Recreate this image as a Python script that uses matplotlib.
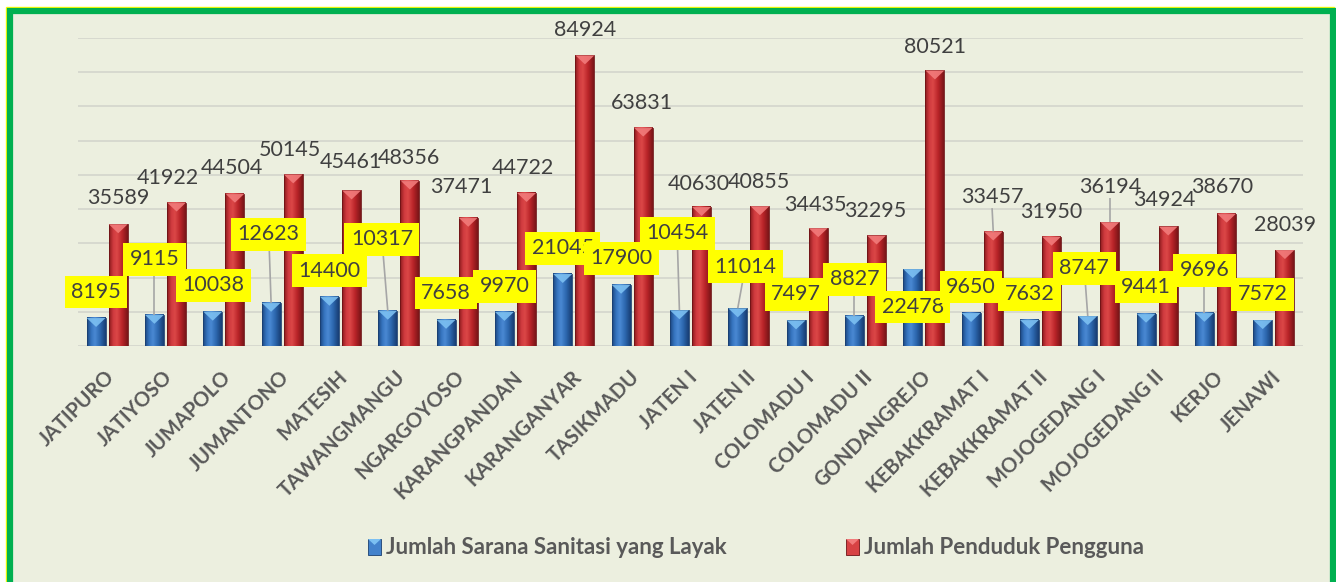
import numpy as np
import matplotlib
matplotlib.use("Agg")
import matplotlib.pyplot as plt
from matplotlib.colors import LinearSegmentedColormap
from matplotlib.patches import Rectangle, Polygon
from matplotlib.transforms import ScaledTranslation

# ---- data -------------------------------------------------------------
kecamatan = ["JATIPURO", "JATIYOSO", "JUMAPOLO", "JUMANTONO", "MATESIH",
             "TAWANGMANGU", "NGARGOYOSO", "KARANGPANDAN", "KARANGANYAR",
             "TASIKMADU", "JATEN I", "JATEN II", "COLOMADU I", "COLOMADU II",
             "GONDANGREJO", "KEBAKKRAMAT I", "KEBAKKRAMAT II", "MOJOGEDANG I",
             "MOJOGEDANG II", "KERJO", "JENAWI"]
sarana_layak = [8195, 9115, 10038, 12623, 14400, 10317, 7658, 9970, 21045,
                17900, 10454, 11014, 7497, 8827, 22478, 9650, 7632, 8747,
                9441, 9696, 7572]
penduduk_pengguna = [35589, 41922, 44504, 50145, 45461, 48356, 37471, 44722,
                     84924, 63831, 40630, 40855, 34435, 32295, 80521, 33457,
                     31950, 36194, 34924, 38670, 28039]
series_names = ["Jumlah Sarana Sanitasi yang Layak", "Jumlah Penduduk Pengguna"]

# ---- label layout (x shift from bar centre, label centre height) ------
blue_lbl_dx = [0.0, 0.0, 0.01, -0.04, 0.0, -0.10, 0.0, 0.0, 0.0, 0.0,
               -0.04, 0.13, 0.0, 0.0, 0.0, 0.0, 0.0, -0.06, 0.0, 0.0, 0.0]
blue_lbl_y = [15770, 25400, 17810, 32700, 22050, 31240, 15480, 17520, 28620,
              25700, 33000, 23210, 15180, 19560, 11390, 17230, 15180, 22780,
              17230, 22190, 15180]
red_lbl_dx = [0.0, -0.15, -0.05, -0.06, -0.02, -0.02, -0.12, -0.06, 0.0,
              -0.02, -0.05, -0.01, -0.05, -0.02, 0.0, -0.02, 0.0, 0.0, -0.07,
              -0.08, 0.0]
red_lbl_y = [43200, 49100, 52000, 57200, 53700, 54900, 46400, 52000, 92300,
             71000, 47300, 47900, 41200, 39400, 87300, 43500, 39100, 46400,
             42600, 46400, 35300]
blue_leaders = [1, 3, 5, 10, 11, 13, 17, 19]
red_leaders = [15, 17]

# ---- styling ----------------------------------------------------------
BG = "#ECEFDF"
GRID = "#D5D7CE"
TXT = "#404040"
AXT = "#595959"
FONT = "Lato"
W, H = 1336, 582

blue_cmap = LinearSegmentedColormap.from_list(
    "blue_bar", [(0, "#1B4680"), (0.22, "#3674BF"), (0.42, "#4A89D3"),
                 (0.7, "#2C67AE"), (1, "#183E74")])
red_cmap = LinearSegmentedColormap.from_list(
    "red_bar", [(0, "#8A1A1D"), (0.22, "#CF3A3E"), (0.42, "#DB4747"),
                (0.7, "#B92428"), (1, "#7A1518")])
cap_colors = ["#7CC0F2", "#F27B7B"]
edge_colors = ["#1A3F70", "#6E1316"]

fig = plt.figure(figsize=(W / 100, H / 100), dpi=100, facecolor="white")

# panel with green frame
fig.add_artist(Rectangle((6 / W, -0.05), 1328 / W, 1 - 7 / H + 0.05,
                         transform=fig.transFigure, fc="none",
                         ec="#FFFF00", lw=1.0, zorder=0))
fig.add_artist(Rectangle((10 / W, -0.05), 1323 / W, 1 - 11 / H + 0.05,
                         transform=fig.transFigure, fc=BG,
                         ec="#00B050", lw=4.5, zorder=0))

ax = fig.add_axes([78 / W, 1 - 346 / H, 1225 / W, 308 / H])
ax.set_facecolor("none")
ax.set_xlim(-0.5, len(kecamatan) - 0.5)
ax.set_ylim(0, 90000)
for s in ax.spines.values():
    s.set_visible(False)
ax.set_xticks([])
ax.set_yticks([])

for g in range(0, 90001, 10000):
    ax.axhline(g, color=GRID, lw=1.3, zorder=1)

x = np.arange(len(kecamatan))
bar_w = 0.325
offsets = [-0.19, 0.19]
grad = np.linspace(0, 1, 64)[np.newaxis, :]
px_val = 90000 / 308  # value per pixel on the y axis
cap_h = 9 * px_val

for k, (vals, cmap) in enumerate([(sarana_layak, blue_cmap),
                                  (penduduk_pengguna, red_cmap)]):
    for i, v in enumerate(vals):
        xc = x[i] + offsets[k]
        x0, x1 = xc - bar_w / 2, xc + bar_w / 2
        ax.imshow(grad, extent=[x0, x1, 0, v], aspect="auto", cmap=cmap,
                  interpolation="bilinear", zorder=2)
        ax.add_patch(Rectangle((x0, 0), bar_w, v, fc="none",
                               ec=edge_colors[k], lw=0.6, zorder=2.1))
        ax.add_patch(Polygon([(x0, v), (x1, v), (xc, v - cap_h)],
                             closed=True, fc=cap_colors[k], ec="none",
                             alpha=0.9, zorder=2.2))

ax.set_xlim(-0.5, len(kecamatan) - 0.5)
ax.set_ylim(0, 90000)

# leader lines
for i in blue_leaders:
    lx = x[i] + offsets[0] + blue_lbl_dx[i]
    ax.plot([lx, x[i] + offsets[0]], [blue_lbl_y[i], sarana_layak[i]],
            color="#A6A6A6", lw=1.2, zorder=3, solid_capstyle="butt")
for i in red_leaders:
    lx = x[i] + offsets[1] + red_lbl_dx[i]
    ax.plot([lx, x[i] + offsets[1]],
            [red_lbl_y[i] - 11 * px_val, penduduk_pengguna[i]],
            color="#A6A6A6", lw=1.2, zorder=3, solid_capstyle="butt")

# value labels
for i, v in enumerate(penduduk_pengguna):
    ax.text(x[i] + offsets[1] + red_lbl_dx[i], red_lbl_y[i], f"{v}",
            ha="center", va="center", fontsize=15.5, color=TXT,
            family=FONT, zorder=4, clip_on=False)
for i, v in enumerate(sarana_layak):
    ax.text(x[i] + offsets[0] + blue_lbl_dx[i], blue_lbl_y[i], f"{v}",
            ha="center", va="center", fontsize=15.5, color=TXT,
            family=FONT, zorder=5 + i * 0.01, clip_on=False,
            bbox=dict(boxstyle="square,pad=0.3", fc="#FFFF00", ec="none"))

# category labels
shift = ScaledTranslation(4 / 100, -28 / 100, fig.dpi_scale_trans)
for i, name in enumerate(kecamatan):
    ax.text(x[i], 0, name, rotation=45, rotation_mode="anchor",
            ha="right", va="center", fontsize=14.5, fontweight="bold",
            color=AXT, family=FONT, transform=ax.transData + shift,
            clip_on=False)

# legend
leg_y = 1 - 547 / H
legend_x = [368, 846]
for k, name in enumerate(series_names):
    lx = legend_x[k]
    icon_w, icon_h = 13, 16
    fig.add_artist(Rectangle((lx / W, leg_y - icon_h / 2 / H), icon_w / W,
                             icon_h / H, transform=fig.transFigure,
                             fc=[blue_cmap, red_cmap][k](0.35),
                             ec=edge_colors[k], lw=0.6, zorder=3))
    top = leg_y + icon_h / 2 / H
    fig.add_artist(Polygon([(lx / W, top), ((lx + icon_w) / W, top),
                            ((lx + icon_w / 2) / W, top - 6 / H)],
                           closed=True, transform=fig.transFigure,
                           fc=cap_colors[k], ec="none", zorder=3.1))
    fig.text((lx + 18) / W, leg_y, name, ha="left", va="center",
             fontsize=16, fontweight="bold", color=AXT, family=FONT)

fig.savefig("out.png", dpi=100, facecolor=fig.get_facecolor())
